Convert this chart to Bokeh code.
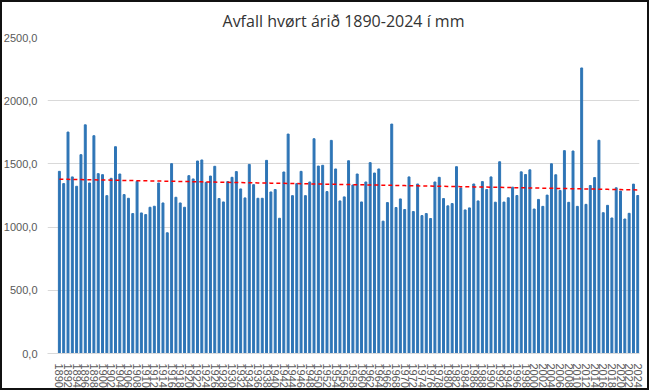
import numpy as np
from math import pi
from bokeh.plotting import figure
from bokeh.models import Range1d, FixedTicker
from bokeh.embed import file_html
from bokeh.resources import INLINE

title_text = "Avfall hvørt árið 1890-2024 í mm"
years = list(range(1890, 2025))
rain = [
    1441, 1344, 1752, 1397, 1323, 1573, 1809, 1349, 1723, 1423,  # 1890-1899
    1415, 1249, 1386, 1636, 1420, 1257, 1228, 1107, 1362, 1112,  # 1900-1909
    1099, 1157, 1165, 1349, 1191, 955, 1502, 1236, 1191, 1157,   # 1910-1919
    1407, 1381, 1523, 1531, 1354, 1404, 1481, 1226, 1199, 1360,  # 1920-1929
    1394, 1439, 1302, 1231, 1496, 1336, 1228, 1228, 1528, 1278,  # 1930-1939
    1297, 1070, 1436, 1736, 1249, 1344, 1441, 1249, 1357, 1699,  # 1940-1949
    1483, 1489, 1281, 1686, 1460, 1207, 1239, 1525, 1333, 1420,  # 1950-1959
    1199, 1357, 1510, 1428, 1460, 1047, 1194, 1815, 1155, 1223,  # 1960-1969
    1139, 1397, 1123, 1341, 1091, 1107, 1068, 1357, 1394, 1226,  # 1970-1979
    1168, 1186, 1478, 1310, 1136, 1152, 1341, 1207, 1360, 1297,  # 1980-1989
    1397, 1197, 1517, 1198, 1232, 1316, 1250, 1437, 1416, 1453,  # 1990-1999
    1143, 1219, 1164, 1253, 1501, 1414, 1290, 1605, 1196, 1602,  # 2000-2009
    1164, 2259, 1180, 1329, 1392, 1687, 1114, 1172, 1072, 1311,  # 2010-2019
    1285, 1064, 1109, 1340, 1250,                                # 2020-2024
]
y_ticks = [0, 500, 1000, 1500, 2000, 2500]
y_labels = ["0,0", "500,0", "1000,0", "1500,0", "2000,0", "2500,0"]
x_ticks = list(range(1890, 2025, 2))

assert len(rain) == len(years)

# linear trend line fitted to the data
coef = np.polyfit(years, rain, 1)
trend = list(np.polyval(coef, years))

p = figure(width=649, height=390, output_backend="svg", toolbar_location=None,
           x_range=Range1d(1887.25, 2024.4), y_range=Range1d(0, 2500),
           min_border_left=43, min_border_right=10, min_border_top=37,
           min_border_bottom=36)
p.styles = {"background-color": "white",
            "box-shadow": "inset 0 0 0 2px #111111"}
p.border_fill_alpha = 0
p.background_fill_color = "white"
p.outline_line_color = None

p.title.text = title_text
p.title.align = "center"
p.title.text_font = "Open Sans"
p.title.text_font_size = "16px"
p.title.text_font_style = "normal"
p.title.text_color = "#333333"
p.title.standoff = 11

p.vbar(x=years, top=rain, width=0.45, color="#2E75B6")
p.line(years, trend, line_color="#FF0000", line_width=1.5, line_dash="4 3")

p.xgrid.grid_line_color = None
p.ygrid.grid_line_color = "#D9D9D9"
p.ygrid.grid_line_width = 1

p.yaxis.ticker = FixedTicker(ticks=y_ticks)
p.yaxis.major_label_overrides = dict(zip(y_ticks, y_labels))
p.yaxis.axis_line_color = None
p.yaxis.major_tick_line_color = None
p.yaxis.minor_tick_line_color = None
p.yaxis.major_label_text_font = "Liberation Sans"
p.yaxis.major_label_text_font_size = "11px"
p.yaxis.major_label_text_color = "#595959"
p.yaxis.major_label_standoff = 4

p.xaxis.ticker = FixedTicker(ticks=x_ticks)
p.xaxis.major_label_orientation = -pi / 2
p.xaxis.axis_line_color = "#D9D9D9"
p.xaxis.major_tick_line_color = None
p.xaxis.minor_tick_line_color = None
p.xaxis.major_label_text_font = "Liberation Sans"
p.xaxis.major_label_text_font_size = "11px"
p.xaxis.major_label_text_color = "#595959"
p.xaxis.major_label_standoff = 4

open("out.html", "w").write(file_html(p, INLINE))
